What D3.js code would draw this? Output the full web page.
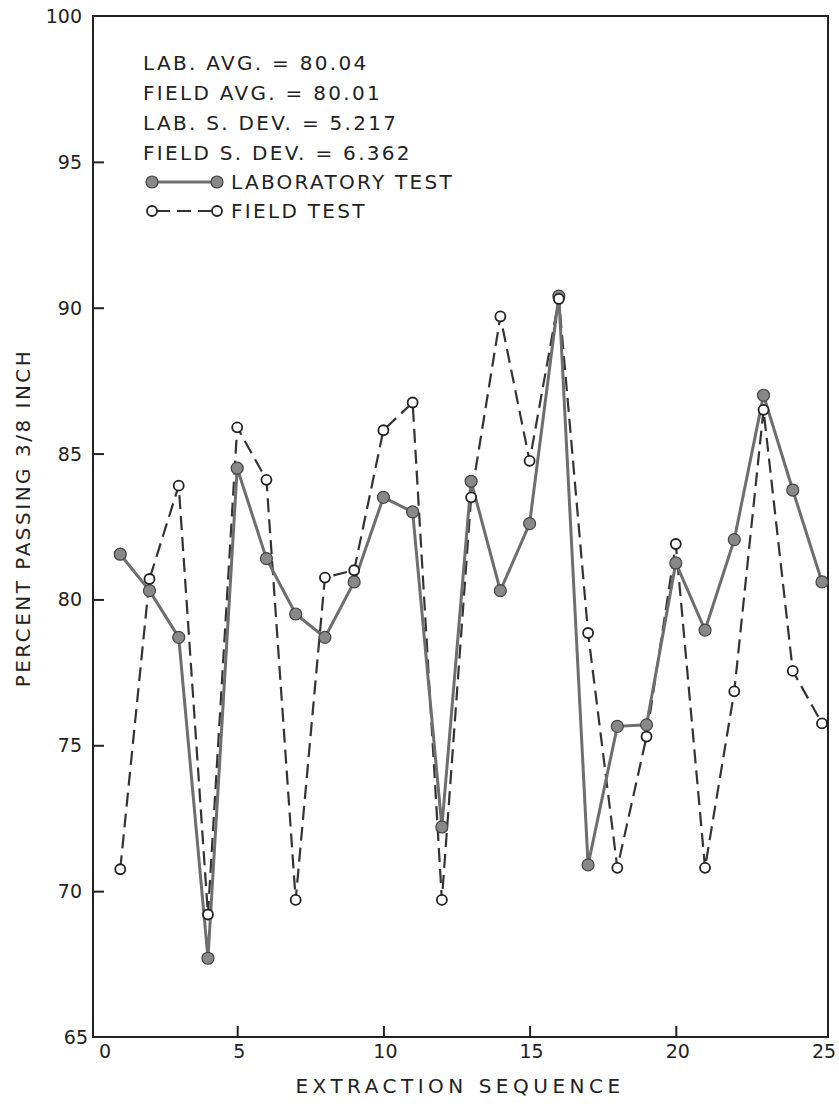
<!DOCTYPE html>
<html>
<head>
<meta charset="utf-8">
<script src="https://d3js.org/d3.v7.min.js"></script>
<style>
  body { margin: 0; background: #fff; }
  text { font-family: "DejaVu Sans", sans-serif; fill: #222; }
</style>
</head>
<body>
<div id="chart"></div>
<script>
// extraction number 1..25
var sequence = [1,2,3,4,5,6,7,8,9,10,11,12,13,14,15,16,17,18,19,20,21,22,23,24,25]

var labTest = [81.55, 80.3, 78.7, 67.7, 84.5, 81.4, 79.5, 78.7, 80.6, 83.5,
               83.0, 72.2, 84.05, 80.3, 82.6, 90.4, 70.9, 75.65, 75.7, 81.25,
               78.95, 82.05, 87.0, 83.75, 80.6]

var fieldTest = [70.75, 80.7, 83.9, 69.2, 85.9, 84.1, 69.7, 80.75, 81.0, 85.8,
                 86.75, 69.7, 83.5, 89.7, 84.75, 90.3, 78.85, 70.8, 75.3, 81.9,
                 70.8, 76.85, 86.5, 77.55, 75.75]

var xTicks = [0, 5, 10, 15, 20, 25]
var yTicks = [65, 70, 75, 80, 85, 90, 95, 100]

var statLines = ["LAB. AVG. = 80.04", "FIELD AVG. = 80.01", "LAB. S. DEV. = 5.217", "FIELD S. DEV. = 6.362"]
var legendNames = ["LABORATORY TEST", "FIELD TEST"]

var W = 839, H = 1110
var frame = {left: 93, right: 828, top: 16, bottom: 1037}

var svg = d3.select("#chart")
    .append("svg")
    .attr("width", W)
    .attr("height", H)

var x = d3.scaleLinear().domain([0, 25]).range([91, 822])
var y = d3.scaleLinear().domain([65, 100]).range([frame.bottom, frame.top])

// box
svg.append("rect")
    .attr("x", frame.left)
    .attr("y", frame.top)
    .attr("width", frame.right - frame.left)
    .attr("height", frame.bottom - frame.top)
    .attr("fill", "none")
    .attr("stroke", "#222")
    .attr("stroke-width", 2)

// y axis, ticks pointing into the plot
var yAxis = svg.append("g")
    .attr("transform", "translate(" + frame.left + ",0)")
    .call(d3.axisRight(y).tickValues(yTicks.filter(function(d){ return d > 65 && d < 100; })).tickSize(11).tickFormat(""))
yAxis.select(".domain").remove()
yAxis.selectAll("line").attr("stroke", "#222").attr("stroke-width", 2)

svg.selectAll(".ylab")
    .data(yTicks)
    .enter()
    .append("text")
    .attr("class", "ylab")
    .attr("x", function(d){ return d == 65 ? 88 : 82; })
    .attr("y", function(d){ return y(d) + 7; })
    .attr("text-anchor", "end")
    .attr("font-size", 19)
    .text(function(d){ return d; })

// x axis, ticks pointing up
var xAxis = svg.append("g")
    .attr("transform", "translate(0," + frame.bottom + ")")
    .call(d3.axisTop(x).tickValues(xTicks.filter(function(d){ return d > 0 && d < 25; })).tickSize(11).tickFormat(""))
xAxis.select(".domain").remove()
xAxis.selectAll("line").attr("stroke", "#222").attr("stroke-width", 2)

svg.selectAll(".xlab")
    .data(xTicks)
    .enter()
    .append("text")
    .attr("class", "xlab")
    .attr("x", function(d){ return d == 0 ? x(d) + 14 : x(d) + 2; })
    .attr("y", 1058)
    .attr("text-anchor", "middle")
    .attr("font-size", 19)
    .text(function(d){ return d; })

// axis titles
svg.append("text")
    .attr("x", 460)
    .attr("y", 1093)
    .attr("text-anchor", "middle")
    .attr("font-size", 20)
    .attr("letter-spacing", "4.5px")
    .text("EXTRACTION SEQUENCE")

svg.append("text")
    .attr("transform", "translate(30,518) rotate(-90)")
    .attr("text-anchor", "middle")
    .attr("font-size", 20)
    .attr("letter-spacing", "2.5px")
    .text("PERCENT PASSING 3/8 INCH")

// series
var seriesLine = d3.line()
    .x(function(d, i){ return x(sequence[i]); })
    .y(function(d){ return y(d); })

svg.append("path")
    .datum(fieldTest)
    .attr("d", seriesLine)
    .attr("fill", "none")
    .attr("stroke", "#333")
    .attr("stroke-width", 2.2)
    .attr("stroke-dasharray", "14,7")

svg.append("path")
    .datum(labTest)
    .attr("d", seriesLine)
    .attr("fill", "none")
    .attr("stroke", "#6e6e6e")
    .attr("stroke-width", 3)

svg.selectAll(".labpt")
    .data(labTest)
    .enter()
    .append("circle")
    .attr("class", "labpt")
    .attr("cx", function(d, i){ return x(sequence[i]); })
    .attr("cy", function(d){ return y(d); })
    .attr("r", 6)
    .attr("fill", "#888")
    .attr("stroke", "#444")
    .attr("stroke-width", 1.2)

svg.selectAll(".fieldpt")
    .data(fieldTest)
    .enter()
    .append("circle")
    .attr("class", "fieldpt")
    .attr("cx", function(d, i){ return x(sequence[i]); })
    .attr("cy", function(d){ return y(d); })
    .attr("r", 5)
    .attr("fill", "#fff")
    .attr("stroke", "#222")
    .attr("stroke-width", 1.8)

// statistics text
svg.selectAll(".stat")
    .data(statLines)
    .enter()
    .append("text")
    .attr("class", "stat")
    .attr("x", 143)
    .attr("y", function(d, i){ return 70 + i * 30; })
    .attr("font-size", 20)
    .attr("letter-spacing", "2.3px")
    .text(function(d){ return d; })

// legend
var lg = svg.append("g")
lg.append("line").attr("x1", 152).attr("x2", 217).attr("y1", 182).attr("y2", 182)
    .attr("stroke", "#6e6e6e").attr("stroke-width", 3)
lg.append("line").attr("x1", 152).attr("x2", 217).attr("y1", 211).attr("y2", 211)
    .attr("stroke", "#333").attr("stroke-width", 2.2).attr("stroke-dasharray", "14,7").attr("stroke-dashoffset", -4)
lg.selectAll(".lgfill").data([152, 217]).enter().append("circle")
    .attr("cx", function(d){ return d; }).attr("cy", 182).attr("r", 6)
    .attr("fill", "#888").attr("stroke", "#444").attr("stroke-width", 1.2)
lg.selectAll(".lgopen").data([152, 217]).enter().append("circle")
    .attr("cx", function(d){ return d; }).attr("cy", 211).attr("r", 5)
    .attr("fill", "#fff").attr("stroke", "#222").attr("stroke-width", 1.8)
lg.selectAll(".lgtext").data(legendNames).enter().append("text")
    .attr("x", 231)
    .attr("y", function(d, i){ return 189 + i * 29; })
    .attr("font-size", 20)
    .attr("letter-spacing", "2.3px")
    .text(function(d){ return d; })
</script>
</body>
</html>
